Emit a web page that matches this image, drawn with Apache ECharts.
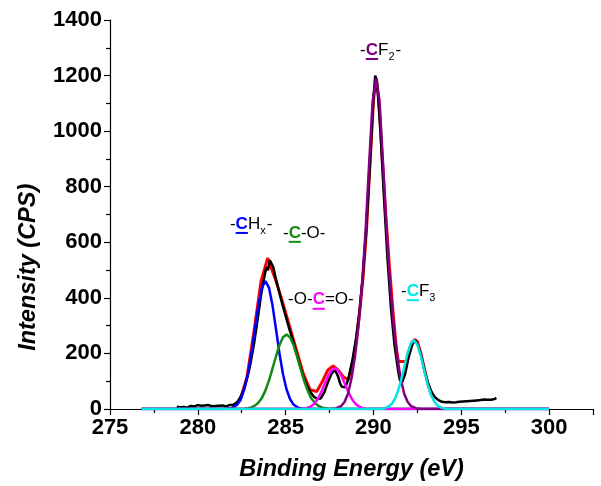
<!DOCTYPE html>
<html><head><meta charset="utf-8">
<script src="https://cdn.jsdelivr.net/npm/echarts@6/dist/echarts.min.js"></script>
<style>html,body{margin:0;padding:0;background:#fff}#c{width:601px;height:486px}</style>
</head><body><div id="c"></div>
<script>
// ---- data (binding energy eV, intensity CPS) ----
const measured = [[278.8,8],[278.9,12],[279.0,6],[279.1,10],[279.2,7],[279.3,9],[279.4,5],[279.5,8],[279.6,11],[279.7,13],[279.8,9],[279.9,12],[280.0,14],[280.1,10],[280.2,12],[280.3,9],[280.4,13],[280.5,11],[280.6,14],[280.7,12],[280.8,10],[280.9,13],[281.0,11],[281.1,9],[281.2,12],[281.3,10],[281.4,13],[281.5,11],[281.6,9],[281.7,12],[281.8,14],[281.9,12],[282.0,15],[282.1,18],[282.2,22],[282.3,30],[282.4,40],[282.5,52],[282.6,68],[282.7,88],[282.8,110],[282.9,135],[283.0,165],[283.2,235],[283.4,320],[283.6,410],[283.8,480],[283.9,510],[284.0,500],[284.1,535],[284.2,530],[284.3,510],[284.4,480],[284.6,430],[284.8,380],[285.0,335],[285.2,290],[285.4,250],[285.6,205],[285.8,160],[286.0,118],[286.2,85],[286.4,62],[286.6,45],[286.8,36],[287.0,38],[287.2,60],[287.4,95],[287.6,125],[287.8,142],[287.9,138],[288.0,115],[288.1,92],[288.2,80],[288.3,74],[288.4,78],[288.5,95],[288.6,118],[288.8,175],[289.0,250],[289.2,350],[289.4,480],[289.6,660],[289.8,880],[290.0,1120],[290.1,1200],[290.15,1205],[290.2,1180],[290.4,1000],[290.6,760],[290.8,540],[291.0,360],[291.2,230],[291.4,140],[291.5,105],[291.6,92],[291.7,98],[291.8,125],[292.0,185],[292.2,230],[292.35,248],[292.5,235],[292.7,195],[292.9,140],[293.1,95],[293.3,62],[293.5,42],[293.7,32],[293.8,30],[293.9,26],[294.0,28],[294.1,24],[294.2,22],[294.3,25],[294.4,21],[294.5,23],[294.6,20],[294.7,24],[294.8,22],[294.9,26],[295.0,24],[295.1,27],[295.2,25],[295.3,28],[295.4,26],[295.5,29],[295.6,27],[295.7,30],[295.8,28],[295.9,31],[296.0,29],[296.1,32],[296.2,30],[296.3,34],[296.4,31],[296.5,33],[296.6,35],[296.7,33],[296.8,38],[296.9,36],[297.0,40]];

const envelope = [[282.0,7],[282.4,30],[282.8,115],[283.2,280],[283.6,460],[283.98,543],[284.4,470],[284.8,390],[285.2,303],[285.6,215],[286.0,128],[286.39,69],[286.77,63],[287.1,100],[287.4,140],[287.7,155],[288.0,140],[288.3,115],[288.57,105],[288.8,160],[289.0,235],[289.2,340],[289.4,470],[289.6,640],[289.8,880],[290.0,1110],[290.15,1190],[290.3,1120],[290.5,900],[290.7,700],[290.9,520],[291.1,360],[291.3,220],[291.42,171],[291.86,171],[292.0,205],[292.2,240],[292.35,250],[292.5,242],[292.7,200],[292.9,145],[293.1,90],[293.3,50]];

const peakCHx = [[276.8,0],[281.45,0],[281.65,1],[281.85,2.5],[282.05,7],[282.25,16],[282.45,36],[282.65,71],[282.85,125],[283.05,200],[283.25,288],[283.45,374],[283.65,437],[283.85,460],[284.05,437],[284.25,374],[284.45,288],[284.65,200],[284.85,125],[285.05,71],[285.25,36],[285.45,16],[285.65,7],[285.85,2.5],[286.05,1],[286.25,0],[300,0]];

const peakCO = [[276.8,0],[282.45,0],[282.65,1],[282.85,2.5],[283.05,6],[283.25,12],[283.45,23],[283.65,40],[283.85,67],[284.05,102],[284.25,145],[284.45,189],[284.65,230],[284.85,258],[285.05,268],[285.25,258],[285.45,230],[285.65,189],[285.85,145],[286.05,102],[286.25,67],[286.45,40],[286.65,23],[286.85,12],[287.05,6],[287.25,2.5],[287.45,1],[287.65,0],[300,0]];

const peakOCO = [[276.8,0],[285.8,0],[286.0,1],[286.2,3],[286.4,8],[286.6,17],[286.8,33],[287.0,57],[287.2,86],[287.4,116],[287.6,138],[287.8,147],[288.0,138],[288.2,116],[288.4,86],[288.6,57],[288.8,33],[289.0,17],[289.2,8],[289.4,3],[289.6,1],[289.8,0],[300,0]];

const peakCF2 = [[276.8,0],[287.55,0],[287.85,2],[288.15,10],[288.35,25],[288.55,55],[288.75,110],[288.95,190],[289.15,300],[289.35,450],[289.55,640],[289.75,880],[289.95,1105],[290.15,1190],[290.35,1105],[290.55,880],[290.75,640],[290.95,450],[291.15,300],[291.35,190],[291.55,110],[291.75,55],[291.95,25],[292.15,10],[292.45,2],[292.75,0],[300,0]];

const peakCF3 = [[276.8,0],[290.3,0],[290.5,1],[290.7,4],[290.9,10],[291.1,23],[291.3,47],[291.5,86],[291.7,137],[291.9,190],[292.1,232],[292.3,248],[292.5,232],[292.7,190],[292.9,137],[293.1,86],[293.3,47],[293.5,23],[293.7,10],[293.9,4],[294.1,1],[294.3,0],[300,0]];

const xTickValues = [275, 280, 285, 290, 295, 300];
const yTickValues = [0, 200, 400, 600, 800, 1000, 1200, 1400];

const colors = {measured:'#000000', envelope:'#ff0000', chx:'#0000ff', co:'#138a13', oco:'#ff00ff', cf2:'#800080', cf3:'#00e5e5'};

// annotation labels: anchor (left edge, vertical centre) in data coords
const annotations = [
  {pos:[289.24,1292], parts:[['-','#000'],['C',colors.cf2,'u'],['F','#000'],['2','#000','sub'],['-','#000']]},
  {pos:[281.83,666], parts:[['-','#000'],['C',colors.chx,'u'],['H','#000'],['x','#000','sub'],['-','#000']]},
  {pos:[284.85,634], parts:[['-','#000'],['C',colors.co,'u'],['-O-','#000']]},
  {pos:[285.14,393], parts:[['-O-','#000'],['C',colors.oco,'u'],['=O-','#000']]},
  {pos:[291.57,424], parts:[['-','#000'],['C',colors.cf3,'u'],['F','#000'],['3','#000','sub']]}
];
const yTitle = 'Intensity (CPS)';
const yTitleCentre = 510; // intensity level of the title's centre

const FONT = "'Liberation Sans', Arial, Helvetica, sans-serif";
const chart = echarts.init(document.getElementById('c'), null, {renderer:'canvas'});

function lineSeries(name, data, color, width, z) {
  return {name, type:'line', data, showSymbol:false, symbol:'none', smooth:false,
    lineStyle:{color, width}, z, animation:false, silent:true};
}

const axisCommon = {
  axisLine:{show:true, lineStyle:{color:'#000', width:1.2}},
  axisTick:{show:true, length:6, lineStyle:{color:'#000', width:1.2}},
  minorTick:{show:true, splitNumber:2, length:4, lineStyle:{color:'#000', width:1.2}},
  splitLine:{show:false},
  axisLabel:{color:'#000', fontSize:22, fontWeight:'bold', fontFamily:FONT, margin:8}
};

chart.setOption({
  animation:false,
  backgroundColor:'#fff',
  grid:{left:110, right:8, top:20, bottom:75, containLabel:false},
  xAxis:Object.assign({}, axisCommon, {
    type:'value', min:275, max:302.5, interval:5,
    axisLabel:Object.assign({}, axisCommon.axisLabel, {formatter:v => xTickValues.includes(v) ? String(v) : ''}),
    name:'Binding Energy (eV)', nameLocation:'middle', nameGap:49,
    nameTextStyle:{color:'#000', fontSize:23.5, fontWeight:'bold', fontStyle:'italic', fontFamily:FONT}
  }),
  yAxis:Object.assign({}, axisCommon, {
    type:'value', min:0, max:1400, interval:200,
    axisLabel:Object.assign({}, axisCommon.axisLabel, {formatter:v => yTickValues.includes(v) ? String(v) : ''})
  }),
  series:[
    lineSeries('Envelope', envelope, colors.envelope, 3, 1),
    lineSeries('Measured', measured, colors.measured, 2.5, 2),
    lineSeries('CHx', peakCHx, colors.chx, 2.5, 3),
    lineSeries('C-O', peakCO, colors.co, 2.5, 3),
    lineSeries('O-C=O', peakOCO, colors.oco, 2.5, 3),
    lineSeries('CF2', peakCF2, colors.cf2, 2.5, 3),
    lineSeries('CF3', peakCF3, colors.cf3, 2.5, 4)
  ]
});

// build annotation text with underlined coloured carbon
const ctx = document.createElement('canvas').getContext('2d');
function fontStr(size, bold) { return (bold ? 'bold ' : '') + size + 'px ' + FONT; }
function measure(t, size, bold) { ctx.font = fontStr(size, bold); return ctx.measureText(t).width; }

const MAIN = 17, SUB = 11;
const elements = [];
annotations.forEach(a => {
  const p = chart.convertToPixel({gridIndex:0}, a.pos);
  let x = p[0];
  const cy = p[1];
  a.parts.forEach(([t, col, kind]) => {
    const isSub = kind === 'sub';
    const bold = kind === 'u';
    const size = isSub ? SUB : MAIN;
    const w = measure(t, size, bold);
    elements.push({type:'text', x:x, y: isSub ? cy + 7 : cy, silent:true, z:10,
      style:{text:t, font:fontStr(size, bold), fill:col, textAlign:'left', textVerticalAlign:'middle'}});
    if (kind === 'u') {
      elements.push({type:'rect', silent:true, z:10, shape:{x:x, y:cy + 8, width:w, height:2}, style:{fill:col}});
    }
    x += w + (isSub ? 1 : 0);
  });
});
// y-axis title
const yt = chart.convertToPixel({gridIndex:0}, [275, yTitleCentre]);
elements.push({type:'text', x:yt[0] - 81, y:yt[1], rotation:Math.PI/2, silent:true, z:10,
  style:{text:yTitle, font:'italic bold 23.5px ' + FONT, fill:'#000', textAlign:'center', textVerticalAlign:'middle'}});
chart.setOption({graphic:{elements}});
</script>
</body></html>
